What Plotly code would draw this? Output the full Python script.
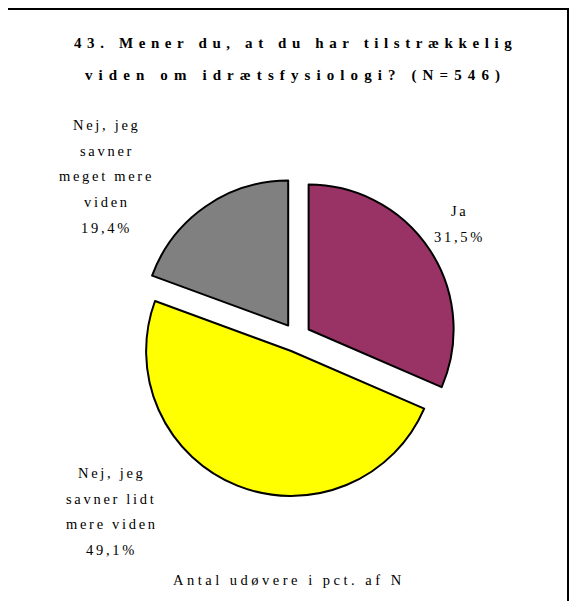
import plotly.graph_objects as go

# page is shown with the default 8px body margin, so the figure is 8px smaller
OFF = 8
W, H = 579 - OFF, 601 - OFF

categories = ["Ja", "Nej, jeg savner lidt mere viden", "Nej, jeg savner meget mere viden"]
values = [31.5, 49.1, 19.4]
colors = ["#993366", "#FFFF00", "#808080"]
pulls = [0.1, 0.1, 0.1]

label_lines = [
    ["Ja", "31,5%"],
    ["Nej, jeg", "savner lidt", "mere viden", "49,1%"],
    ["Nej, jeg", "savner", "meget mere", "viden", "19,4%"],
]
label_pos = [(458.5, 211), (110.5, 473), (105.5, 125)]  # page-pixel centre of first line
line_gap = 25.7

title_lines = ["43. Mener du, at du har tilstrækkelig", "viden om idrætsfysiologi? (N=546)"]
title_y = [43, 75]
title_ls = [5.6, 6.1]
footer = "Antal udøvere i pct. af N"

SERIF = "Liberation Serif, Times New Roman, DejaVu Serif, serif"

def px(x):
    return (x - OFF) / W

def py(y):
    return 1 - (y - OFF) / H

def spaced(t, s):
    return f'<span style="letter-spacing:{s}px">{t}</span>'

cx, cy, half = 296.5, 337.5, 159.5

fig = go.Figure(go.Pie(
    labels=categories,
    values=values,
    sort=False,
    direction="clockwise",
    rotation=0,
    pull=pulls,
    marker=dict(colors=colors, line=dict(color="black", width=2)),
    textinfo="none",
    hoverinfo="label+percent",
    showlegend=False,
    domain=dict(x=[px(cx - half), px(cx + half)], y=[py(cy + half), py(cy - half)]),
))

ann = []
for t, yy, ls in zip(title_lines, title_y, title_ls):
    ann.append(dict(text="<b>" + spaced(t, ls) + "</b>", x=px(292.5 + ls / 2), y=py(yy),
                    xref="paper", yref="paper", showarrow=False, xanchor="center", yanchor="middle",
                    font=dict(family=SERIF, size=15, color="black")))
LS = 2.7
for lines, (lx, ly) in zip(label_lines, label_pos):
    for j, t in enumerate(lines):
        ann.append(dict(text=spaced(t, LS), x=px(lx + LS / 2), y=py(ly + j * line_gap),
                        xref="paper", yref="paper", showarrow=False, xanchor="center", yanchor="middle",
                        font=dict(family=SERIF, size=14.5, color="black")))
ann.append(dict(text=spaced(footer, 3.5), x=px(287.5 + 1.75), y=py(580), xref="paper", yref="paper",
                showarrow=False, xanchor="center", yanchor="middle",
                font=dict(family=SERIF, size=14.5, color="black")))

fig.update_layout(
    width=W, height=H,
    margin=dict(l=0, r=0, t=0, b=0),
    paper_bgcolor="white",
    plot_bgcolor="white",
    annotations=ann,
    shapes=[dict(type="rect", xref="paper", yref="paper",
                 x0=px(7), x1=px(568), y0=py(640), y1=py(9),
                 line=dict(color="black", width=2), fillcolor="rgba(0,0,0,0)")],
)

fig.write_html("out.html")
